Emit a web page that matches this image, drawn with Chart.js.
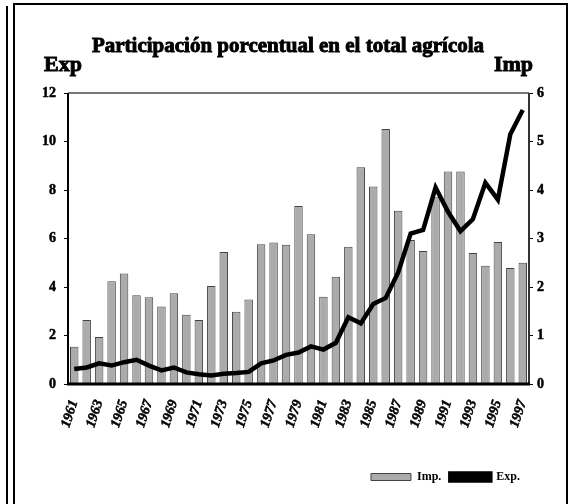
<!DOCTYPE html>
<html>
<head>
<meta charset="utf-8">
<script src="https://cdn.jsdelivr.net/npm/chart.js@4.4.0/dist/chart.umd.min.js"></script>
<style>
  html, body { margin: 0; padding: 0; background: #fff; }
  #wrap { position: relative; width: 570px; height: 504px; }
</style>
</head>
<body>
<div id="wrap"><canvas id="agroChart" width="570" height="504"></canvas></div>
<script>
// Years on the category axis
const years = ['1961','1962','1963','1964','1965','1966','1967','1968','1969','1970',
  '1971','1972','1973','1974','1975','1976','1977','1978','1979','1980',
  '1981','1982','1983','1984','1985','1986','1987','1988','1989','1990',
  '1991','1992','1993','1994','1995','1996','1997'];

// Imports share (right axis, bars)
const impValues = [0.77, 1.32, 0.97, 2.12, 2.28, 1.83, 1.79, 1.60, 1.87, 1.43,
  1.32, 2.02, 2.72, 1.49, 1.74, 2.88, 2.92, 2.87, 3.67, 3.09,
  1.80, 2.21, 2.83, 4.47, 4.07, 5.26, 3.57, 2.97, 2.74, 3.85,
  4.38, 4.38, 2.70, 2.44, 2.93, 2.39, 2.50];

// Exports share (left axis, line)
const expValues = [0.62, 0.68, 0.85, 0.76, 0.90, 1.00, 0.76, 0.56, 0.68, 0.48,
  0.40, 0.35, 0.42, 0.45, 0.50, 0.85, 0.97, 1.20, 1.30, 1.55,
  1.42, 1.70, 2.75, 2.50, 3.30, 3.55, 4.60, 6.20, 6.35, 8.10,
  7.10, 6.30, 6.80, 8.30, 7.60, 10.30, 11.30];

const titleText = 'Participación porcentual en el total agrícola';
const leftAxisLabel = 'Exp';
const rightAxisLabel = 'Imp';

const serif = '"Liberation Serif", "DejaVu Serif", serif';

// frame lines + title + axis names + plot border
const decorPlugin = {
  id: 'decor',
  afterDraw(chart) {
    const ctx = chart.ctx;
    const a = chart.chartArea;
    ctx.save();
    // outer frame
    ctx.strokeStyle = '#000';
    ctx.lineWidth = 2;
    ctx.beginPath();
    ctx.moveTo(7, 6); ctx.lineTo(7, 504);
    ctx.moveTo(14, 504); ctx.lineTo(14, 4); ctx.lineTo(567, 4); ctx.lineTo(567, 504);
    ctx.stroke();

    // plot border
    ctx.strokeStyle = '#777';
    ctx.lineWidth = 2;
    ctx.beginPath();
    ctx.moveTo(a.left, a.top); ctx.lineTo(a.right, a.top);
    ctx.stroke();
    ctx.strokeStyle = '#333';
    ctx.beginPath();
    ctx.moveTo(a.right, a.top); ctx.lineTo(a.right, a.bottom);
    ctx.stroke();
    ctx.strokeStyle = '#000';
    ctx.beginPath();
    ctx.moveTo(a.left, a.top); ctx.lineTo(a.left, a.bottom);
    ctx.stroke();
    ctx.lineWidth = 3;
    ctx.beginPath();
    ctx.moveTo(a.left - 1, a.bottom); ctx.lineTo(a.right + 1, a.bottom);
    ctx.stroke();

    // title and axis names (thin stroke makes the bold heavier, as in the scan)
    ctx.fillStyle = '#000';
    ctx.strokeStyle = '#000';
    ctx.lineWidth = 0.9;
    ctx.textBaseline = 'alphabetic';
    ctx.font = 'bold 21px ' + serif;
    ctx.textAlign = 'center';
    ctx.fillText(titleText, 288, 52);
    ctx.strokeText(titleText, 288, 52);
    ctx.font = 'bold 22px ' + serif;
    ctx.textAlign = 'left';
    ctx.fillText(leftAxisLabel, 44, 71);
    ctx.strokeText(leftAxisLabel, 44, 71);
    ctx.textAlign = 'right';
    ctx.fillText(rightAxisLabel, 533, 71);
    ctx.strokeText(rightAxisLabel, 533, 71);
    ctx.restore();
  }
};

const ctx = document.getElementById('agroChart').getContext('2d');

const tickFont = { family: serif, size: 14, weight: 'bold' };

new Chart(ctx, {
  type: 'bar',
  data: {
    labels: years,
    datasets: [{
      type: 'bar',
      label: 'Imp.',
      data: impValues,
      yAxisID: 'yImp',
      backgroundColor: '#ababab',
      borderColor: '#444',
      borderWidth: 1,
      barPercentage: 0.68,
      categoryPercentage: 1.0,
      order: 1
    }, {
      type: 'line',
      label: 'Exp.',
      data: expValues,
      yAxisID: 'yExp',
      borderColor: '#000',
      backgroundColor: '#000',
      borderWidth: 4.5,
      pointRadius: 0,
      tension: 0,
      fill: false,
      order: 0
    }]
  },
  options: {
    responsive: false,
    animation: false,
    layout: { padding: { top: 93, left: 0, right: 0, bottom: 11 } },
    plugins: {
      title: { display: false },
      tooltip: { enabled: false },
      legend: {
        display: true,
        position: 'bottom',
        align: 'end',
        fullSize: false,
        labels: {
          sort: (a, b) => a.datasetIndex - b.datasetIndex,
          boxWidth: 40,
          boxHeight: 7,
          padding: 9,
          color: '#000',
          font: { family: serif, size: 12, weight: 'bold' }
        }
      }
    },
    scales: {
      x: {
        grid: { display: false, drawTicks: false },
        border: { display: false },
        afterFit: (s) => { s.height = 78; },
        ticks: {
          autoSkip: false,
          maxRotation: 72,
          minRotation: 72,
          padding: 14,
          color: '#000',
          textStrokeColor: '#000',
          textStrokeWidth: 0.5,
          font: { family: serif, size: 14, weight: 'bold', style: 'italic' },
          callback: function(value, index) {
            return index % 2 === 0 ? this.getLabelForValue(value) : '';
          }
        }
      },
      yExp: {
        position: 'left',
        min: 0,
        max: 12,
        afterFit: (s) => { s.width = 68; },
        border: { display: false },
        grid: { drawOnChartArea: false, tickLength: 4, color: '#000', lineWidth: 1 },
        ticks: {
          stepSize: 2,
          padding: 8,
          color: '#000',
          textStrokeColor: '#000',
          textStrokeWidth: 0.5,
          font: tickFont
        }
      },
      yImp: {
        position: 'right',
        min: 0,
        max: 6,
        afterFit: (s) => { s.width = 41; },
        border: { display: false },
        grid: { drawOnChartArea: false, tickLength: 4, color: '#000', lineWidth: 1 },
        ticks: {
          stepSize: 1,
          padding: 4,
          color: '#000',
          textStrokeColor: '#000',
          textStrokeWidth: 0.5,
          font: tickFont
        }
      }
    }
  },
  plugins: [decorPlugin]
});
</script>
</body>
</html>
